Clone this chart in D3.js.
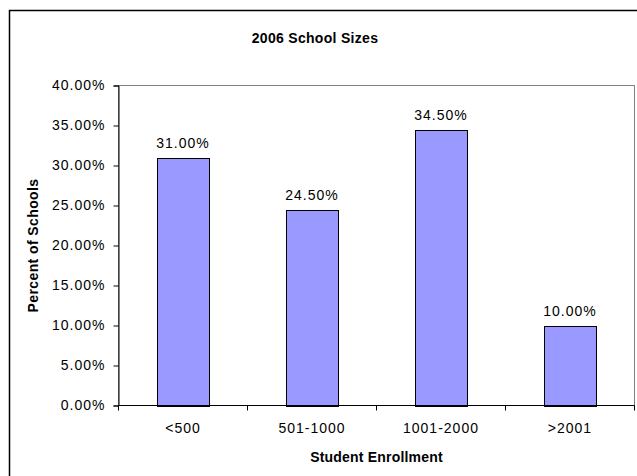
<!DOCTYPE html>
<html>
<head>
<meta charset="utf-8">
<script src="https://cdn.jsdelivr.net/npm/d3@7"></script>
<style>
  body { margin: 0; background: #fff; }
  text { font-family: "Liberation Sans", Arial, sans-serif; fill: #000; }
</style>
</head>
<body>
<div class="chart"></div>
<script>
// 2006 School Sizes - bar chart

var categories = ["<500", "501-1000", "1001-2000", ">2001"];
var percents = [0.31, 0.245, 0.345, 0.10];
var yTicks = [0, 0.05, 0.10, 0.15, 0.20, 0.25, 0.30, 0.35, 0.40];

var W = 637, H = 476;
var plot = {left: 118.5, top: 85.5, right: 634.5, bottom: 405.5};

var fmt = d3.format(".2%");

var svg = d3.select(".chart").append("svg")
    .attr("width", W)
    .attr("height", H);

/* outer chart border (right / bottom sides fall outside the picture) */
svg.append("rect")
    .attr("x", 9.5).attr("y", 10.5)
    .attr("width", W + 20).attr("height", H + 20)
    .attr("fill", "#fff")
    .attr("stroke", "#000")
    .attr("stroke-width", 1.5);

/* scales */
var x = d3.scaleBand()
    .domain(categories)
    .range([plot.left, plot.right])
    .paddingInner(0.6)
    .paddingOuter(0.3);

var y = d3.scaleLinear()
    .domain([0, 0.40])
    .range([plot.bottom, plot.top]);

/* plot area frame */
svg.append("rect")
    .attr("x", plot.left).attr("y", plot.top)
    .attr("width", plot.right - plot.left)
    .attr("height", plot.bottom - plot.top)
    .attr("fill", "#fff")
    .attr("stroke", "#808080")
    .attr("stroke-width", 1);

/* bars */
svg.selectAll(".bar")
    .data(percents)
    .enter().append("rect")
    .attr("class", "bar")
    .attr("x", function(d, i) { return Math.round(x(categories[i])) + 0.5; })
    .attr("width", Math.round(x.bandwidth()))
    .attr("y", function(d) { return Math.round(y(d)) + 0.5; })
    .attr("height", function(d) { return Math.round(y(0)) - Math.round(y(d)); })
    .attr("fill", "#9999ff")
    .attr("stroke", "#000")
    .attr("stroke-width", 1);

/* value labels */
svg.selectAll(".val")
    .data(percents)
    .enter().append("text")
    .attr("class", "val")
    .attr("x", function(d, i) { return x(categories[i]) + x.bandwidth() / 2; })
    .attr("y", function(d) { return y(d) - 10; })
    .attr("text-anchor", "middle")
    .style("font-size", "14px")
    .style("letter-spacing", "1px")
    .text(function(d) { return fmt(d); });

// Y axis
var yAxis = svg.append("g")
    .attr("transform", "translate(" + plot.left + ",0)")
    .call(d3.axisLeft(y).tickValues(yTicks).tickFormat(fmt).tickSize(5).tickPadding(8));
yAxis.select(".domain").attr("stroke", "#000");
yAxis.selectAll("text")
    .style("font-size", "14px")
    .style("letter-spacing", "1px")
    .style("font-family", "'Liberation Sans', Arial, sans-serif");

// X axis line + ticks at category boundaries
svg.append("line")
    .attr("x1", plot.left).attr("x2", plot.right)
    .attr("y1", plot.bottom).attr("y2", plot.bottom)
    .attr("stroke", "#000");

var bounds = d3.range(categories.length + 1).map(function(i) {
    return Math.round(plot.left + i * x.step() - 0.5) + 0.5;
});
svg.selectAll(".xtick")
    .data(bounds)
    .enter().append("line")
    .attr("class", "xtick")
    .attr("x1", function(d) { return d; })
    .attr("x2", function(d) { return d; })
    .attr("y1", plot.bottom)
    .attr("y2", plot.bottom + 5)
    .attr("stroke", "#000");

svg.selectAll(".xlab")
    .data(categories)
    .enter().append("text")
    .attr("class", "xlab")
    .attr("x", function(d) { return x(d) + x.bandwidth() / 2; })
    .attr("y", 433)
    .attr("text-anchor", "middle")
    .style("font-size", "14px")
    .style("letter-spacing", "1px")
    .text(function(d) { return d; });

/* titles */
svg.append("text")
    .attr("x", 315).attr("y", 43)
    .attr("text-anchor", "middle")
    .style("font-size", "14px")
    .style("font-weight", "bold")
    .style("letter-spacing", "0.3px")
    .text("2006 School Sizes");

svg.append("text")
    .attr("x", (plot.left + plot.right) / 2).attr("y", 462)
    .attr("text-anchor", "middle")
    .style("font-size", "14px")
    .style("font-weight", "bold")
    .style("letter-spacing", "0.2px")
    .text("Student Enrollment");

svg.append("text")
    .attr("transform", "translate(38," + (plot.top + plot.bottom) / 2 + ") rotate(-90)")
    .attr("text-anchor", "middle")
    .style("font-size", "14px")
    .style("font-weight", "bold")
    .style("letter-spacing", "0.4px")
    .text("Percent of Schools");
</script>
</body>
</html>
